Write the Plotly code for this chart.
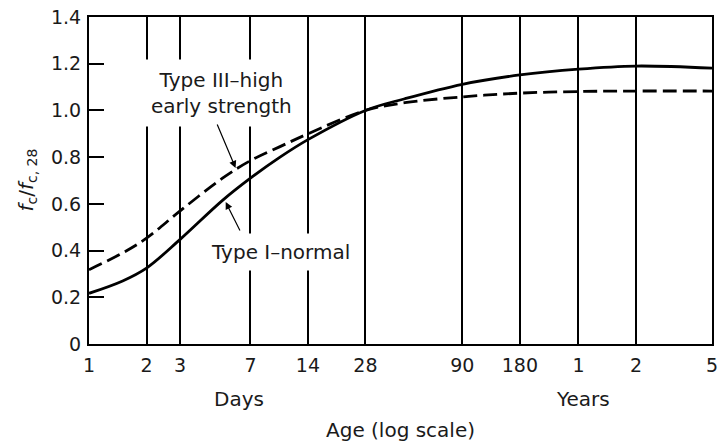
import math
import plotly.graph_objects as go

# ---- data (age in days, strength ratio f_c / f_c,28) ----
days_type_i = [1, 1.5, 2, 3, 5, 7, 10, 14, 28, 45, 90, 180, 365, 730, 1825]
type_i_normal = [0.217, 0.27, 0.325, 0.448, 0.615, 0.71, 0.80, 0.875, 1.0, 1.05, 1.112, 1.152,
                 1.177, 1.19, 1.181]

days_type_iii = [1, 1.5, 2, 3, 5, 7, 10, 14, 28, 45, 90, 180, 365, 730, 1825]
type_iii_high = [0.318, 0.39, 0.453, 0.57, 0.71, 0.785, 0.845, 0.90, 1.0, 1.033, 1.058, 1.074,
                 1.081, 1.083, 1.083]

x_tick_days = [1, 2, 3, 7, 14, 28, 90, 180, 365, 730, 1825]
x_tick_labels = ["1", "2", "3", "7", "14", "28", "90", "180", "1", "2", "5"]
y_tick_vals = [0, 0.2, 0.4, 0.6, 0.8, 1.0, 1.2, 1.4]
y_tick_labels = ["0", "0.2", "0.4", "0.6", "0.8", "1.0", "1.2", "1.4"]

FONT = "DejaVu Sans"
TXT = "#1a1a1a"

fig = go.Figure()
fig.add_trace(go.Scatter(
    x=days_type_i, y=type_i_normal, mode="lines", name="Type I–normal",
    line=dict(color="black", width=2.8, shape="spline", smoothing=1.0),
))
fig.add_trace(go.Scatter(
    x=days_type_iii, y=type_iii_high, mode="lines", name="Type III–high early strength",
    line=dict(color="black", width=2.8, dash="14px,6px", shape="spline", smoothing=1.0),
))

fig.update_layout(
    width=721, height=447,
    margin=dict(l=89, r=3, t=17, b=103),
    paper_bgcolor="white", plot_bgcolor="white",
    showlegend=False,
    font=dict(family=FONT, size=19, color=TXT),
    xaxis=dict(
        type="log", range=[0, math.log10(1825)],
        tickvals=x_tick_days, ticktext=x_tick_labels,
        ticks="", showgrid=True, gridcolor="black", gridwidth=1.5,
        showline=True, linecolor="black", linewidth=2, mirror=True,
        zeroline=False, tickfont=dict(size=19, color=TXT),
        ticklabelstandoff=3, ticklabeloverflow="allow",
    ),
    yaxis=dict(
        range=[0, 1.4], tickvals=y_tick_vals, ticktext=y_tick_labels,
        ticks="inside", ticklen=15, tickwidth=2, tickcolor="black",
        showgrid=False, zeroline=False,
        showline=True, linecolor="black", linewidth=2, mirror=True,
        tickfont=dict(size=19, color=TXT),
        ticklabelstandoff=2,
    ),
)

def px_x(px):
    return (px - 89) / 629.0

def px_y(py):
    return (344 - py) / 327.0

def label(text, cx, cy, size=20, **kw):
    d = dict(text=text, x=px_x(cx), y=px_y(cy), xref="paper", yref="paper",
             xanchor="center", yanchor="middle", showarrow=False,
             font=dict(size=size, color=TXT, family=FONT))
    d.update(kw)
    return d

annots = [
    label("Type III–high<br>early strength", 223, 93, bgcolor="white", borderpad=8),
    label("Type I–normal", 282, 252, bgcolor="white", borderpad=6),
    dict(text="", x=px_x(237), y=px_y(168), xref="paper", yref="paper",
         showarrow=True, ax=-19, ay=-45, arrowhead=2, arrowsize=1.2,
         arrowwidth=1.2, arrowcolor="black"),
    dict(text="", x=px_x(227), y=px_y(202), xref="paper", yref="paper",
         showarrow=True, ax=15, ay=30, arrowhead=2, arrowsize=1.2,
         arrowwidth=1.2, arrowcolor="black"),
    label("Days", 240, 399),
    label("Years", 588, 399),
    label("Age (log scale)", 403, 430),
    label("<i>f</i><sub>c</sub>/<i>f</i><sub>c, 28</sub>", 26, 180, textangle=-90),
]
fig.update_layout(annotations=annots)

fig.write_html("out.html")
